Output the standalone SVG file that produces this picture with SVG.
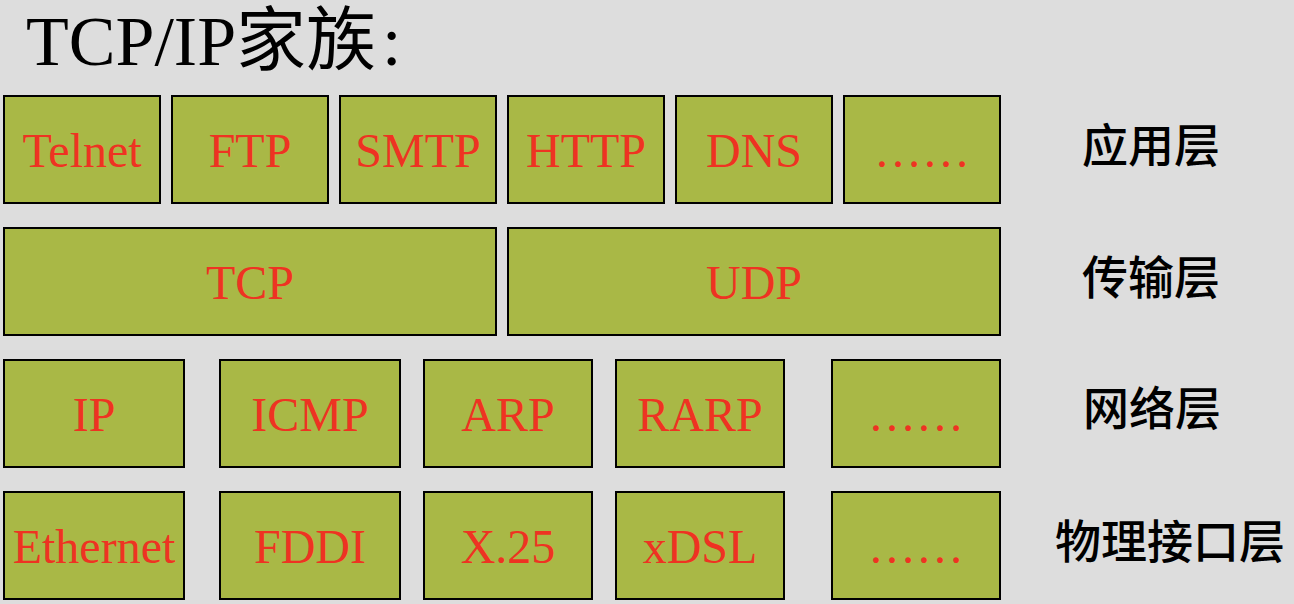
<svg xmlns="http://www.w3.org/2000/svg" width="1294" height="604" viewBox="0 0 1294 604">
<style>
.bg{fill:#DDDDDD}
.box{fill:#A9B846;stroke:#000;stroke-width:2}
.lbl{font-family:"Liberation Serif","Times New Roman",serif;font-size:48px;fill:#EE3322;text-anchor:middle}
.layer{font-family:"Noto Sans CJK SC","Noto Sans",sans-serif;font-size:46px;font-weight:500;fill:#000;text-anchor:middle}
.title{font-family:"Liberation Serif","Noto Sans CJK SC",serif;font-size:70px;fill:#000}
</style>
<rect class="bg" x="0" y="0" width="1294" height="604"/>
<text class="title" x="26" y="65">TCP/IP家族<tspan dx="6">:</tspan></text>
<g id="app-layer">
<g id="telnet"><rect class="box" x="4" y="96" width="156" height="107"/><text class="lbl" x="82" y="167">Telnet</text></g>
<g id="ftp"><rect class="box" x="172" y="96" width="156" height="107"/><text class="lbl" x="250" y="167">FTP</text></g>
<g id="smtp"><rect class="box" x="340" y="96" width="156" height="107"/><text class="lbl" x="418" y="167">SMTP</text></g>
<g id="http"><rect class="box" x="508" y="96" width="156" height="107"/><text class="lbl" x="586" y="167">HTTP</text></g>
<g id="dns"><rect class="box" x="676" y="96" width="156" height="107"/><text class="lbl" x="754" y="167">DNS</text></g>
<g id="app-more"><rect class="box" x="844" y="96" width="156" height="107"/><text class="lbl" x="922" y="167">……</text></g>
<text class="layer" x="1151" y="162">应用层</text>
</g>
<g id="transport-layer">
<g id="tcp"><rect class="box" x="4" y="228" width="492" height="107"/><text class="lbl" x="250" y="299">TCP</text></g>
<g id="udp"><rect class="box" x="508" y="228" width="492" height="107"/><text class="lbl" x="754" y="299">UDP</text></g>
<text class="layer" x="1151" y="294">传输层</text>
</g>
<g id="network-layer">
<g id="ip"><rect class="box" x="4" y="360" width="180" height="107"/><text class="lbl" x="94" y="431">IP</text></g>
<g id="icmp"><rect class="box" x="220" y="360" width="180" height="107"/><text class="lbl" x="310" y="431">ICMP</text></g>
<g id="arp"><rect class="box" x="424" y="360" width="168" height="107"/><text class="lbl" x="508" y="431">ARP</text></g>
<g id="rarp"><rect class="box" x="616" y="360" width="168" height="107"/><text class="lbl" x="700" y="431">RARP</text></g>
<g id="net-more"><rect class="box" x="832" y="360" width="168" height="107"/><text class="lbl" x="916" y="431">……</text></g>
<text class="layer" x="1152" y="425">网络层</text>
</g>
<g id="phys-layer">
<g id="ethernet"><rect class="box" x="4" y="492" width="180" height="107"/><text class="lbl" x="94" y="563">Ethernet</text></g>
<g id="fddi"><rect class="box" x="220" y="492" width="180" height="107"/><text class="lbl" x="310" y="563">FDDI</text></g>
<g id="x25"><rect class="box" x="424" y="492" width="168" height="107"/><text class="lbl" x="508" y="563">X.25</text></g>
<g id="xdsl"><rect class="box" x="616" y="492" width="168" height="107"/><text class="lbl" x="700" y="563">xDSL</text></g>
<g id="phys-more"><rect class="box" x="832" y="492" width="168" height="107"/><text class="lbl" x="916" y="563">……</text></g>
<text class="layer" x="1170" y="558">物理接口层</text>
</g>
<g id="connectors"/>
</svg>
